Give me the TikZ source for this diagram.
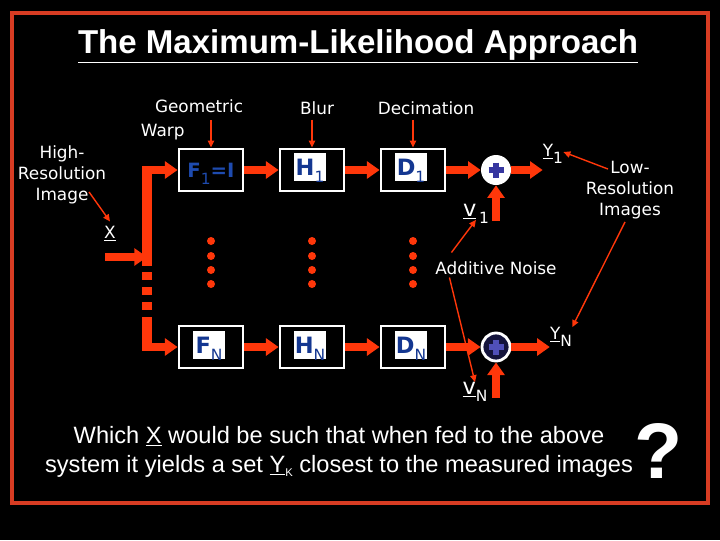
\documentclass[tikz,border=0pt]{standalone}
\usepackage{fontspec}
\setmainfont{DejaVu Sans}
\newfontfamily\arialfont{Liberation Sans}
\usetikzlibrary{arrows.meta,calc}
\definecolor{wire}{RGB}{255,55,10}
\definecolor{rim}{RGB}{215,60,35}
\definecolor{ink}{RGB}{20,55,145}
\definecolor{fblue}{RGB}{30,75,175}
\definecolor{crossblue}{RGB}{55,55,160}
\definecolor{crosslight}{RGB}{80,80,185}
\definecolor{navyfill}{RGB}{20,20,60}
\newcommand{\lowidx}[1]{\smash{\raisebox{-5pt}{\mdseries\fontsize{11}{11}\selectfont #1}}}

\begin{document}
\begin{tikzpicture}[x=0.025cm, y=-0.025cm, font=\fontsize{12}{15}\selectfont, text=white,
  blockbox/.style={draw=white, line width=2pt, fill=black, minimum width=1.6cm,
                   minimum height=1.05cm, inner sep=0pt},
  chip/.style={fill=white, minimum width=0.82cm, minimum height=0.68cm, inner sep=0pt,
               text=ink, font=\fontsize{16}{16}\selectfont\bfseries},
  summer/.style={circle, fill=white, minimum size=0.75cm, inner sep=0pt},
  flow/.style={draw=wire, line width=5.7pt, -{Triangle[length=9pt,width=12pt]}},
  busline/.style={draw=wire, line width=7pt},
  pointer/.style={draw=wire, line width=1pt, -{Triangle[length=5pt,width=4.5pt]}},
  tag/.style={inner sep=0pt}]
  \useasboundingbox[fill=black] (0,0) rectangle (720,540);
  \draw[rim, line width=2.2pt] (12,13) rectangle (708,503);
  \node[font=\arialfont\bfseries\fontsize{23.5}{26}\selectfont] (title) at (358,46)
    {\underline{The Maximum-Likelihood Approach}};

  \node[align=left, anchor=west, font=\fontsize{12}{17}\selectfont] (warp) at (136,120)
    {\hspace*{10pt}Geometric\\Warp};
  \node (blur) at (317,108) {Blur};
  \node (decim) at (426,108) {Decimation};
  \node[align=center] (hires) at (62,175) {High-\\Resolution\\Image};
  \node[align=center] (lowres) at (630,190) {Low-\\Resolution\\Images};
  \node (noise) at (496,268) {Additive Noise};

  \node[blockbox, text=fblue, font=\fontsize{14}{14}\selectfont\bfseries] (f1) at (211,170)
    {F\lowidx{1}=I};
  \node[blockbox] (h1) at (312,170) {};
  \node[blockbox] (d1) at (413,170) {};
  \node[blockbox] (fN) at (211,347) {};
  \node[blockbox] (hN) at (312,347) {};
  \node[blockbox] (dN) at (413,347) {};
  \node[chip] (h1c) at ($(h1)+(-2,-3)$) {H\lowidx{1}};
  \node[chip] (d1c) at ($(d1)+(-2,-3)$) {D\lowidx{1}};
  \node[chip] (fNc) at ($(fN)+(-2,-2)$) {F\lowidx{N}};
  \node[chip] (hNc) at ($(hN)+(-2,-2)$) {H\lowidx{N}};
  \node[chip] (dNc) at ($(dN)+(-2,-2)$) {D\lowidx{N}};

  \node[summer] (sum1) at (496,170) {};
  \node[summer, draw=white, line width=2pt, fill=navyfill, minimum size=0.7cm] (sumN) at (496,347) {};
  \foreach \s/\c in {sum1/crossblue, sumN/crosslight}
    \draw[\c, line width=4.3pt] ($(\s)+(-7.5,0)$) -- ($(\s)+(7.5,0)$)
                                ($(\s)+(0,-7.5)$) -- ($(\s)+(0,7.5)$);

  \node[tag] (y1) at (553,152) {\underline{Y}\lowidx{1}};
  \node[tag] (yN) at (561,335) {\underline{Y}\lowidx{N}};
  \node[tag] (v1) at (476,212) {\underline{\fontsize{16}{16}\selectfont v}\,\lowidx{1}};
  \node[tag] (vN) at (475,390) {\underline{\fontsize{16}{16}\selectfont v}\lowidx{N}};
  \node (xin) at (110,234) {\underline{X}};

  \coordinate (n1) at (496,221);
  \coordinate (nN) at (496,398);
  \coordinate (busin) at (105,257);
  \coordinate (bustop) at (147,170);
  \coordinate (busbot) at (147,347);
  \coordinate (bushead) at (147,166);
  \coordinate (busfoot) at (147,351);
  \coordinate (gaptop) at (147,266);
  \coordinate (gapbot) at (147,317);

  \draw[busline] (bushead) -- (gaptop);
  \draw[busline, dash pattern=on 5.6pt off 5.2pt, dash phase=6.5pt] (gaptop) -- (gapbot);
  \draw[busline] (gapbot) -- (busfoot);
  \draw[flow] (busin) -- (busin -| bustop);
  \draw[flow] (bustop) -- (f1.west);
  \draw[flow] (busbot) -- (fN.west);
  \draw[flow] (f1.east) -- (h1.west);
  \draw[flow] (h1.east) -- (d1.west);
  \draw[flow] (d1.east) -- (sum1.west);
  \draw[flow] (sum1.east) -- (sum1.east -| y1.west);
  \draw[flow] (n1) -- (sum1.south);
  \draw[flow] (fN.east) -- (hN.west);
  \draw[flow] (hN.east) -- (dN.west);
  \draw[flow] (dN.east) -- (sumN.west);
  \draw[flow] (sumN.east) -- (sumN.east -| yN.west);
  \draw[flow] (nN) -- (sumN.south);

  \foreach \c in {f1,h1,d1}
    \foreach \y in {241,256,270,284}
      \fill[wire] (\c |- 0,\y) circle (1mm);

  \draw[pointer] (warp.center -| f1.north) -- (f1.north);
  \draw[pointer] (blur.south -| h1.north) -- (h1.north);
  \draw[pointer] (decim.south -| d1.north) -- (d1.north);
  \draw[pointer] ($(hires.east)+(-22,17)$) -- (xin.north);
  \draw[pointer] ($(lowres.north)+(-22,13)$) -- (y1.east);
  \draw[pointer] ($(lowres.south)+(-5,-2)$) -- (yN.north east);
  \draw[pointer] ($(noise.north west)+(21,-4)$) -- (v1.south);
  \draw[pointer] ($(noise.south west)+(19,-2)$) -- (vN.north);

  \node[font=\arialfont\fontsize{16.8}{20.6}\selectfont, align=center] (query) at (339,452)
    {Which \underline{X} would be such that when fed to the above\\
     system it yields a set \underline{Y}\raisebox{-3pt}{\fontsize{8}{8}\selectfont K} closest to the measured images};
  \node[font=\arialfont\bfseries\fontsize{56}{56}\selectfont] (qmark) at (659,451) {?};
\end{tikzpicture}
\end{document}
